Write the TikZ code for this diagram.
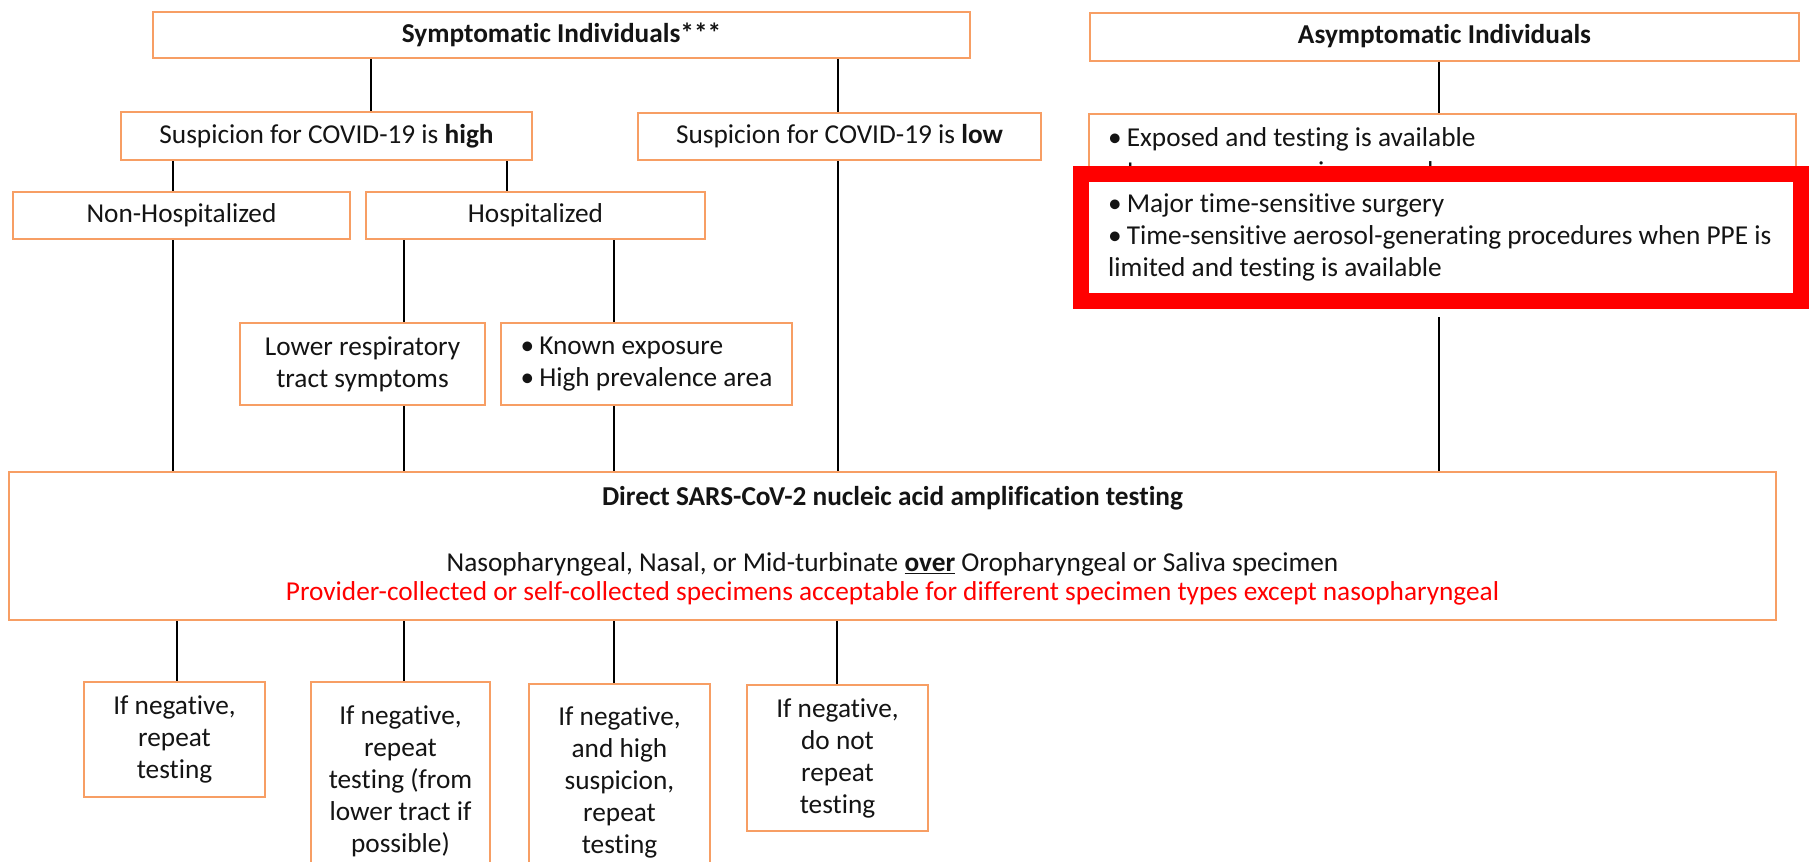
\documentclass[tikz,border=0pt]{standalone}
\usepackage{fontspec}
\setmainfont{Carlito}[Ligatures=NoCommon]
\definecolor{boxorange}{RGB}{247,158,100}
\definecolor{txt}{RGB}{20,20,20}
\definecolor{redframe}{RGB}{255,0,0}
\newcommand{\fs}{\fontsize{27.3}{32}\selectfont}
\tikzset{
  box/.style={draw=boxorange, line width=2pt, fill=white, inner sep=0pt, align=center, font=\fs, text=txt},
  conn/.style={draw=black, line width=2pt},
  plain/.style={inner sep=0pt, font=\fs, text=txt, align=left}
}
\begin{document}
\begin{tikzpicture}[x=1pt,y=-1pt]
\useasboundingbox (0,0) rectangle (1810,862);
\clip (0,0) rectangle (1810,862);
\fill[white] (0,0) rectangle (1810,862);
% column coordinates
\coordinate (xa) at (371,0);
\coordinate (xb) at (838,0);
\coordinate (xc) at (1439,0);
\coordinate (xd) at (173,0);
\coordinate (xe) at (507,0);
\coordinate (xf) at (404,0);
\coordinate (xg) at (614,0);
\coordinate (xh) at (177,0);
\coordinate (xi) at (837,0);
% nodes
\node[box, minimum width=817, minimum height=46] (sym) at (561.5,35) {\textbf{Symptomatic Individuals***}};
\node[box, minimum width=709, minimum height=48] (asym) at (1444.5,36.5) {\textbf{Asymptomatic Individuals}};
\node[box, minimum width=411, minimum height=48] (shigh) at (326.5,136) {Suspicion for COVID-19 is \textbf{high}};
\node[box, minimum width=403, minimum height=47] (slow) at (839.5,136.5) {Suspicion for COVID-19 is \textbf{low}};
\node[box, minimum width=707, minimum height=186] (asym2) at (1442.5,207) {};
\node[plain, anchor=west] (t1) at (1108,139) {•\hspace{5pt}Exposed and testing is available};
\node[plain, anchor=west] (t2) at (1108,173) {•\hspace{5pt}Immunosuppressive procedures};
\node[draw=redframe, line width=16pt, fill=white, minimum width=720, minimum height=127, inner sep=0pt] (red) at (1441,237.5) {};
\node[plain, anchor=west] (t3) at (1108,237) {•\hspace{5pt}Major time-sensitive surgery\\•\hspace{5pt}Time-sensitive aerosol-generating procedures when PPE is\\limited and testing is available};
\node[box, minimum width=337, minimum height=47] (nonhosp) at (181.5,215.5) {Non-Hospitalized};
\node[box, minimum width=339, minimum height=47] (hosp) at (535.5,215.5) {Hospitalized};
\node[box, minimum width=245, minimum height=82] (lrt) at (362.5,364) {Lower respiratory\\tract symptoms};
\node[box, minimum width=291, minimum height=82, align=left] (known) at (646.5,364) {•\hspace{5pt}Known exposure\\•\hspace{5pt}High prevalence area};
\node[box, minimum width=1767, minimum height=148] (big) at (892.5,546) {\textbf{Direct SARS-CoV-2 nucleic acid amplification testing}\\[34pt]Nasopharyngeal, Nasal, or Mid-turbinate \underline{\textbf{over}} Oropharyngeal or Saliva specimen\\[-3pt]\textcolor{redframe}{Provider-collected or self-collected specimens acceptable for different specimen types except nasopharyngeal}};
\node[box, minimum width=181, minimum height=115] (b1) at (174.5,739.5) {If negative,\\repeat\\testing};
\node[box, minimum width=179, minimum height=198] (b2) at (400.5,781) {If negative,\\repeat\\testing (from\\lower tract if\\possible)};
\node[box, minimum width=181, minimum height=196] (b3) at (619.5,782) {If negative,\\and high\\suspicion,\\repeat\\testing};
\node[box, minimum width=181, minimum height=146] (b4) at (837.5,758) {If negative,\\do not\\repeat\\testing};
% connectors
\draw[conn] (sym.south -| xa) -- (shigh.north -| xa);
\draw[conn] (sym.south -| xb) -- (slow.north -| xb);
\draw[conn] (slow.south -| xb) -- (big.north -| xb);
\draw[conn] (asym.south -| xc) -- (asym2.north -| xc);
\draw[conn] ([yshift=-8pt]red.south -| xc) -- (big.north -| xc);
\draw[conn] (shigh.south -| xd) -- (nonhosp.north -| xd);
\draw[conn] (nonhosp.south -| xd) -- (big.north -| xd);
\draw[conn] (shigh.south -| xe) -- (hosp.north -| xe);
\draw[conn] (hosp.south -| xf) -- (lrt.north -| xf);
\draw[conn] (lrt.south -| xf) -- (big.north -| xf);
\draw[conn] (hosp.south -| xg) -- (known.north -| xg);
\draw[conn] (known.south -| xg) -- (big.north -| xg);
\draw[conn] (big.south -| xh) -- (b1.north -| xh);
\draw[conn] (big.south -| xf) -- (b2.north -| xf);
\draw[conn] (big.south -| xg) -- (b3.north -| xg);
\draw[conn] (big.south -| xi) -- (b4.north -| xi);
\end{tikzpicture}
\end{document}
